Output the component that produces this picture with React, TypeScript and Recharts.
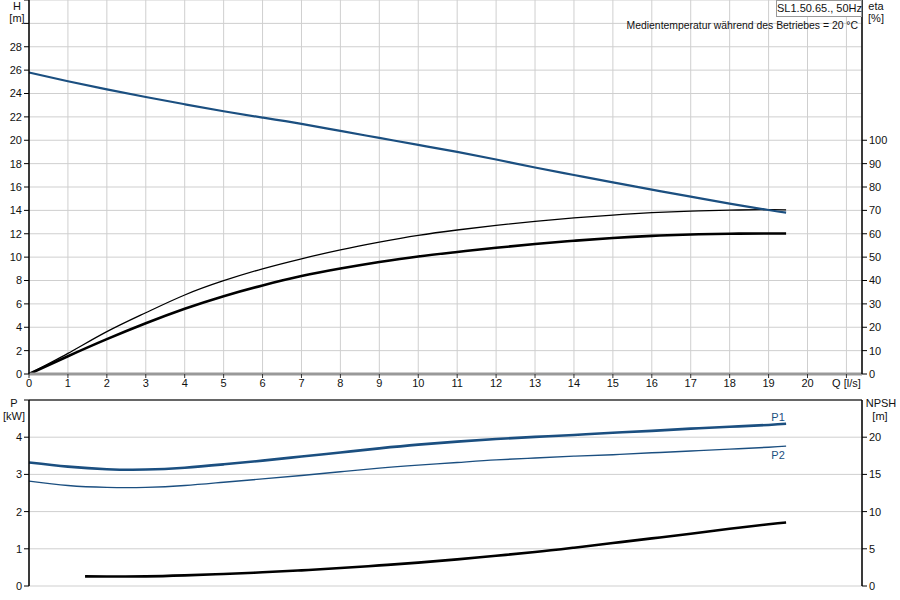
import { CartesianGrid, ComposedChart, Line, ReferenceLine, XAxis, YAxis } from "recharts";

const FONT = "'Liberation Sans', Arial, sans-serif";
const BLUE = "#1b4f80";

// flow Q [l/s]
const qValues = [0, 1, 2, 3, 4, 5, 6, 7, 8, 9, 10, 11, 12, 13, 14, 15, 16, 17, 18, 19, 19.45];
// head H [m]
const headH = [25.8, 25.05, 24.35, 23.7, 23.08, 22.48, 21.94, 21.4, 20.8, 20.2, 19.6, 19.0, 18.35, 17.67, 17.03, 16.4, 15.78, 15.17, 14.58, 14.03, 13.8];
// efficiency [%]
const etaPump = [0, 8.8, 18.1, 26.2, 33.8, 39.9, 45.0, 49.3, 53.1, 56.4, 59.3, 61.6, 63.6, 65.3, 66.8, 68.0, 69.0, 69.7, 70.1, 70.3, 70.2];
const etaTotal = [0, 7.6, 14.9, 21.7, 27.9, 33.3, 37.9, 41.9, 45.1, 47.9, 50.3, 52.2, 54.0, 55.6, 57.0, 58.2, 59.1, 59.7, 60.0, 60.1, 60.1];
// power [kW]
const powerP1 = [3.32, 3.21, 3.14, 3.13, 3.18, 3.27, 3.37, 3.48, 3.59, 3.7, 3.8, 3.88, 3.95, 4.01, 4.06, 4.12, 4.17, 4.23, 4.28, 4.33, 4.36];
const powerP2 = [2.82, 2.7, 2.65, 2.65, 2.7, 2.79, 2.88, 2.97, 3.07, 3.17, 3.25, 3.32, 3.39, 3.44, 3.49, 3.53, 3.58, 3.63, 3.68, 3.73, 3.76];
// NPSH [m]
const npshQ = [1.44, 2, 3, 4, 5, 6, 7, 8, 9, 10, 11, 12, 13, 14, 15, 16, 17, 18, 19, 19.45];
const npshM = [1.3, 1.28, 1.3, 1.43, 1.61, 1.84, 2.1, 2.41, 2.77, 3.14, 3.58, 4.07, 4.56, 5.15, 5.77, 6.4, 7.02, 7.69, 8.31, 8.54];

const qTicks = [0, 1, 2, 3, 4, 5, 6, 7, 8, 9, 10, 11, 12, 13, 14, 15, 16, 17, 18, 19, 20, 21];
const hTicks = [0, 2, 4, 6, 8, 10, 12, 14, 16, 18, 20, 22, 24, 26, 28, 30, 32];
const etaTicks = [0, 10, 20, 30, 40, 50, 60, 70, 80, 90, 100];
const pTicks = [0, 1, 2, 3, 4, 5];
const npshTicks = [0, 5, 10, 15, 20];

const topData = qValues.map((q, i) => ({ q, h: headH[i], eta1: etaPump[i], eta2: etaTotal[i] }));
const powerData = qValues.map((q, i) => ({ q, p1: powerP1[i], p2: powerP2[i] }));
const npshData = npshQ.map((q, i) => ({ q, npsh: npshM[i] }));

const tickStyle = { fill: "#111", fontSize: 11, fontFamily: FONT };

const textStyle = (left: number, top: number, align: "left" | "center" | "right" = "center", size = 11) => ({
  position: "absolute" as const,
  left,
  top,
  fontFamily: FONT,
  fontSize: size,
  color: "#111",
  lineHeight: "12px",
  whiteSpace: "nowrap" as const,
  transform: align === "center" ? "translateX(-50%)" : align === "right" ? "translateX(-100%)" : undefined,
});

function endLabel(text: string, dy: number, count: number) {
  return (props: any) => {
    if (props.index !== count - 1) return null;
    return (
      <text x={props.x - 8} y={props.y + dy} textAnchor="middle" fill={BLUE} fontSize={11} fontFamily={FONT}>
        {text}
      </text>
    );
  };
}

export default function App() {
  return (
    <div style={{ position: "absolute", left: 0, top: 0, width: 900, height: 600, background: "#fff" }}>
      {/* H / eta panel */}
      <div style={{ position: "absolute", left: 0, top: 0 }}>
        <ComposedChart width={900} height={396} data={topData} margin={{ top: 0, right: 0, bottom: 0, left: 0 }}>
          <CartesianGrid stroke="#cfcfcf" yAxisId="h" />
          <XAxis
            dataKey="q"
            type="number"
            domain={[0, 21.4]}
            ticks={qTicks}
            interval={0}
            height={22}
            tickSize={4}
            tickMargin={1}
            tick={tickStyle}
            tickFormatter={(v) => (v === 21 ? "Q [l/s]" : String(v))}
            axisLine={{ stroke: "#999", strokeWidth: 3 }}
            tickLine={{ stroke: "#333" }}
          />
          <YAxis
            yAxisId="h"
            domain={[0, 32]}
            ticks={hTicks}
            interval={0}
            width={29}
            tickSize={5}
            tick={tickStyle}
            tickFormatter={(v) => (v > 28 ? "" : String(v))}
            axisLine={{ stroke: "#000", strokeWidth: 1.5 }}
            tickLine={{ stroke: "#000" }}
          />
          <YAxis
            yAxisId="eta"
            orientation="right"
            domain={[0, 160]}
            ticks={etaTicks}
            interval={0}
            width={38}
            tickSize={5}
            tick={{ ...tickStyle, textAnchor: "start" }}
            axisLine={{ stroke: "#000", strokeWidth: 1.5 }}
            tickLine={{ stroke: "#000" }}
          />
          <Line yAxisId="eta" type="natural" dataKey="eta1" stroke="#000" strokeWidth={1.3} dot={false} isAnimationActive={false} />
          <Line yAxisId="eta" type="natural" dataKey="eta2" stroke="#000" strokeWidth={2.6} dot={false} isAnimationActive={false} />
          <Line yAxisId="h" type="natural" dataKey="h" stroke={BLUE} strokeWidth={2.2} dot={false} isAnimationActive={false} />
        </ComposedChart>
      </div>

      {/* P / NPSH panel */}
      <div style={{ position: "absolute", left: 0, top: 398 }}>
        <ComposedChart width={900} height={202} data={powerData} margin={{ top: 2, right: 0, bottom: 14, left: 0 }}>
          <CartesianGrid stroke="#cfcfcf" yAxisId="p" />
          <XAxis
            dataKey="q"
            type="number"
            domain={[0, 21.4]}
            ticks={qTicks}
            interval={0}
            height={0}
            tick={false}
            tickLine={false}
            axisLine={{ stroke: "#999", strokeWidth: 3 }}
          />
          <YAxis
            yAxisId="p"
            domain={[0, 5]}
            ticks={pTicks}
            interval={0}
            width={29}
            tickSize={5}
            tick={tickStyle}
            tickFormatter={(v) => (v > 4 ? "" : String(v))}
            axisLine={{ stroke: "#000", strokeWidth: 1.5 }}
            tickLine={{ stroke: "#000" }}
          />
          <YAxis
            yAxisId="npsh"
            orientation="right"
            domain={[0, 25]}
            ticks={npshTicks}
            interval={0}
            width={38}
            tickSize={5}
            tick={{ ...tickStyle, textAnchor: "start" }}
            axisLine={{ stroke: "#000", strokeWidth: 1.5 }}
            tickLine={{ stroke: "#000" }}
          />
          <ReferenceLine yAxisId="p" y={5} stroke="#666" strokeWidth={2} />
          <Line
            yAxisId="p"
            type="natural"
            dataKey="p1"
            stroke={BLUE}
            strokeWidth={2.6}
            dot={false}
            isAnimationActive={false}
            label={endLabel("P1", -3, powerP1.length)}
          />
          <Line
            yAxisId="p"
            type="natural"
            dataKey="p2"
            stroke={BLUE}
            strokeWidth={1.4}
            dot={false}
            isAnimationActive={false}
            label={endLabel("P2", 13, powerP2.length)}
          />
          <Line
            yAxisId="npsh"
            data={npshData}
            type="natural"
            dataKey="npsh"
            stroke="#000"
            strokeWidth={2.6}
            dot={false}
            isAnimationActive={false}
          />
        </ComposedChart>
      </div>

      {/* axis titles */}
      <div style={textStyle(17, 0)}>H</div>
      <div style={textStyle(17, 12)}>[m]</div>
      <div style={textStyle(876, 0)}>eta</div>
      <div style={textStyle(876, 12)}>[%]</div>
      <div style={textStyle(14, 397)}>P</div>
      <div style={textStyle(14, 410)}>[kW]</div>
      <div style={textStyle(881, 397)}>NPSH</div>
      <div style={textStyle(880, 410)}>[m]</div>

      <div
        style={{
          position: "absolute",
          left: 776,
          top: 0,
          width: 84,
          height: 15,
          border: "1px solid #999",
          background: "#fff",
          fontFamily: FONT,
          fontSize: 11,
          lineHeight: "15px",
          textAlign: "center",
          color: "#111",
          whiteSpace: "nowrap",
        }}
      >
        SL1.50.65., 50Hz
      </div>
      <div style={textStyle(858, 20, "right", 10.4)}>Medientemperatur während des Betriebes = 20 °C</div>
    </div>
  );
}
